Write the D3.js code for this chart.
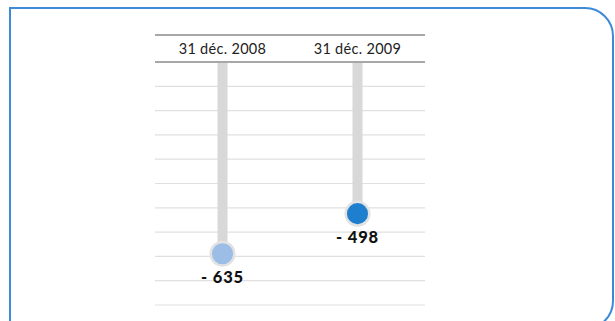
<!DOCTYPE html>
<html>
<head>
<meta charset="utf-8">
<script src="https://cdn.jsdelivr.net/npm/d3@7"></script>
<style>
  html, body { margin: 0; padding: 0; background: #fff; }
  svg { display: block; }
</style>
</head>
<body>
<svg id="chart" width="615" height="321"></svg>
<script>
// Dates shown as columns, and the value reached at each date
const categories = ["31 déc. 2008", "31 déc. 2009"];
const values = [-635, -498];
const labels = ["- 635", "- 498"];
const dotColors = ["#9bbde6", "#1f7fcf"];
const gridCount = 10; // number of intervals between horizontal rules

const svg = d3.select("#chart");

// Card frame: square on the left, rounded on the right
const fx0 = 10, fy0 = 8, fx1 = 613, fy1 = 329, r = 28;
svg.append("path")
  .attr("d", `M${fx0},${fy1 + 10} V${fy0} H${fx1 - r} A${r},${r} 0 0 1 ${fx1},${fy0 + r} V${fy1 - r} A${r},${r} 0 0 1 ${fx1 - r},${fy1}`)
  .attr("fill", "none")
  .attr("stroke", "#3d8bd8")
  .attr("stroke-width", 2);

const left = 155, right = 425;
const headTop = 35, plotTop = 62, plotBottom = 305;

const x = d3.scalePoint().domain(categories).range([left, right]).padding(0.5);
const y = d3.scaleLinear().domain([0, -800]).range([68, 302]);
const gridY = d3.scaleLinear().domain([0, gridCount]).range([plotTop, plotBottom]);

// Light horizontal rules
svg.append("g").selectAll("line")
  .data(d3.range(1, gridCount + 1))
  .join("line")
  .attr("x1", left).attr("x2", right)
  .attr("y1", d => gridY(d)).attr("y2", d => gridY(d))
  .attr("stroke", "#e0e0e0")
  .attr("stroke-width", 1.2);

// Header rules
[headTop, plotTop].forEach(yy => {
  svg.append("line")
    .attr("x1", left).attr("x2", right)
    .attr("y1", yy).attr("y2", yy)
    .attr("stroke", "#8a8a8a")
    .attr("stroke-width", 1.5);
});

// Column headers
svg.append("g").selectAll("text")
  .data(categories)
  .join("text")
  .attr("x", d => x(d))
  .attr("y", (headTop + plotTop) / 2 + 5)
  .attr("text-anchor", "middle")
  .attr("font-family", "Lato, 'Open Sans', sans-serif")
  .attr("font-size", 14.5)
  .attr("letter-spacing", 0.3)
  .attr("fill", "#222")
  .text(d => d);

const data = categories.map((c, i) => ({ c, v: values[i], label: labels[i], color: dotColors[i] }));

// Stems
svg.append("g").selectAll("rect")
  .data(data)
  .join("rect")
  .attr("x", d => x(d.c) - 5)
  .attr("y", plotTop + 1)
  .attr("width", 10)
  .attr("height", d => y(d.v) - plotTop - 1)
  .attr("fill", "#d8d8d8");

// Dots
svg.append("g").selectAll("circle")
  .data(data)
  .join("circle")
  .attr("cx", d => x(d.c))
  .attr("cy", d => y(d.v))
  .attr("r", 11.8)
  .attr("fill", d => d.color)
  .attr("stroke", "#e2e2e2")
  .attr("stroke-width", 2.5);

// Value labels
svg.append("g").selectAll("text")
  .data(data)
  .join("text")
  .attr("x", d => x(d.c))
  .attr("y", d => y(d.v) + 29)
  .attr("text-anchor", "middle")
  .attr("font-family", "Lato, 'Open Sans', sans-serif")
  .attr("font-weight", 900)
  .attr("font-size", 16.5)
  .attr("letter-spacing", 0.8)
  .attr("fill", "#111")
  .text(d => d.label);
</script>
</body>
</html>
